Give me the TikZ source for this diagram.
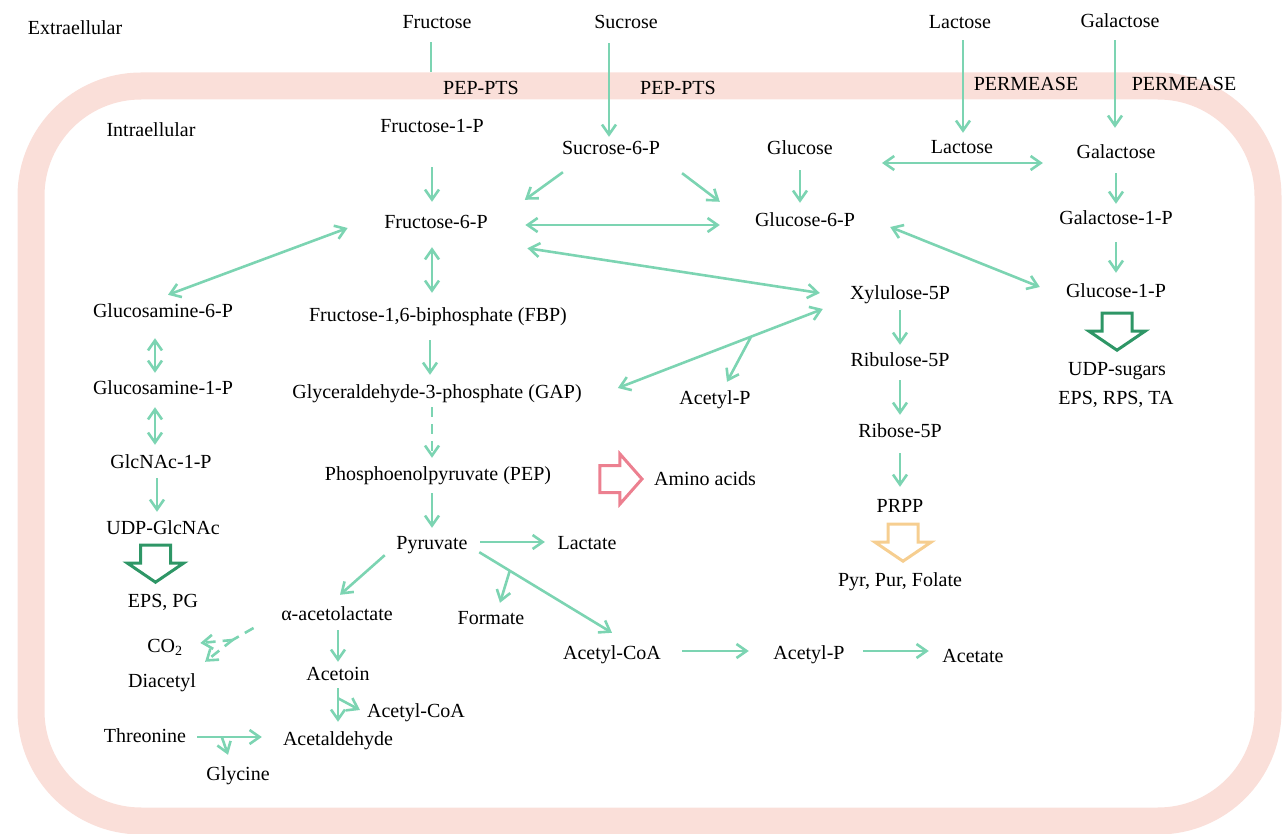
\documentclass[tikz,border=0pt]{standalone}
\usepackage{fontspec}
\setmainfont{Liberation Serif}
\usetikzlibrary{positioning,calc}
\usetikzlibrary{arrows.meta}
\definecolor{mint}{RGB}{124,212,178}
\definecolor{membranepink}{RGB}{250,223,217}
\definecolor{sugargreen}{RGB}{46,150,102}
\definecolor{aminopink}{RGB}{236,128,144}
\definecolor{prppyellow}{RGB}{246,206,144}
\tikzset{flow/.style={draw=mint, line width=2.6pt, -{Straight Barb[length=10pt, width=14pt]}}}
\tikzset{flowboth/.style={flow, {Straight Barb[length=10pt, width=14pt]}-{Straight Barb[length=10pt, width=14pt]}}}
\tikzset{flowline/.style={draw=mint, line width=2.6pt}}
\tikzset{pathdash/.style={dash pattern=on 10pt off 7pt}}
\tikzset{metab/.style={font=\fontsize{20}{24}\selectfont, inner sep=0pt, text height=14pt, text depth=0pt}}
\tikzset{membrane/.style={draw=membranepink, line width=27pt, rounded corners=110pt}}
\tikzset{blockarrow/.style={line width=3pt, line join=miter}}
\tikzset{bigdown/.pic={\draw[pic actions] (-15,0) -- (15,0) -- (15,-18) -- (28,-18) -- (0,-37) -- (-28,-18) -- (-15,-18) -- cycle;}}
\tikzset{bigright/.pic={\draw[pic actions] (0,13.5) -- (20,13.5) -- (20,25) -- (42,0) -- (20,-25) -- (20,-13.5) -- (0,-13.5) -- cycle;}}

\begin{document}
\begin{tikzpicture}[x=1pt, y=1pt]
		\useasboundingbox (0,0) rectangle (1286,-834);
		
		% cell membrane
		\draw[membrane] (31,-86) rectangle (1268,-821);
		
		% OUTSIDE / MEMBRANE
		\node[metab] (ext)    at (75,-28)   {Extraellular};
		\node[metab] (fru)    at (437,-22)  {Fructose};
		\node[metab] (suc)    at (626,-22)  {Sucrose};
		\node[metab] (lacout) at (960,-22)  {Lactose};
		\node[metab] (galout) at (1120,-21) {Galactose};
		\node[metab] (pts1)   at (481,-88)  {PEP-PTS};
		\node[metab] (pts2)   at (678,-88)  {PEP-PTS};
		\node[metab] (perm1)  at (1026,-84) {PERMEASE};
		\node[metab] (perm2)  at (1184,-84) {PERMEASE};
		
		% INSIDE
		\node[metab] (int)      at (151,-130)  {Intraellular};
		\node[metab] (f1p)      at (432,-126)  {Fructose-1-P};
		\node[metab] (s6p)      at (611,-148)  {Sucrose-6-P};
		\node[metab] (glc)      at (800,-148)  {Glucose};
		\node[metab] (lacin)    at (962,-147)  {Lactose};
		\node[metab] (galin)    at (1116,-152) {Galactose};
		\node[metab] (f6p)      at (436,-222)  {Fructose-6-P};
		\node[metab] (g6p)      at (805,-220)  {Glucose-6-P};
		\node[metab] (gal1p)    at (1116,-218) {Galactose-1-P};
		\node[metab] (gn6p)     at (163,-311)  {Glucosamine-6-P};
		\node[metab] (fbp)      at (438,-315)  {Fructose-1,6-biphosphate (FBP)};
		\node[metab] (xyl)      at (900,-293)  {Xylulose-5P};
		\node[metab] (g1p)      at (1116,-291) {Glucose-1-P};
		\node[metab] (gn1p)     at (163,-388)  {Glucosamine-1-P};
		\node[metab] (gap)      at (437,-392)  {Glyceraldehyde-3-phosphate (GAP)};
		\node[metab] (acp1)     at (715,-398)  {Acetyl-P};
		\node[metab] (rbl)      at (900,-360)  {Ribulose-5P};
		\node[metab] (udps)     at (1117,-369) {UDP-sugars};
		\node[metab] (epsrps)   at (1116,-398) {EPS, RPS, TA};
		\node[metab] (rib)      at (900,-430)  {Ribose-5P};
		\node[metab] (glcnac1p) at (161,-461)  {GlcNAc-1-P};
		\node[metab] (pep)      at (438,-473)  {Phosphoenolpyruvate (PEP)};
		\node[metab] (amino)    at (705,-478)  {Amino acids};
		\node[metab] (prpp)     at (900,-505)  {PRPP};
		\node[metab] (udpg)     at (163,-527)  {UDP-GlcNAc};
		\node[metab] (pyr)      at (432,-542)  {Pyruvate};
		\node[metab] (lac)      at (587,-542)  {Lactate};
		\node[metab] (pyrpur)   at (900,-579)  {Pyr, Pur, Folate};
		\node[metab] (epspg)    at (163,-600)  {EPS, PG};
		\node[metab] (alac)     at (337,-613)  {α-acetolactate};
		\node[metab] (form)     at (491,-617)  {Formate};
		\node[metab] (co2)      at (165,-645)  {CO\textsubscript{2}};
		\node[metab] (acoa)     at (612,-652)  {Acetyl-CoA};
		\node[metab] (acp2)     at (809,-652)  {Acetyl-P};
		\node[metab] (ace)      at (973,-655)  {Acetate};
		\node[metab] (diac)     at (162,-680)  {Diacetyl};
		\node[metab] (acetoin)  at (338,-673)  {Acetoin};
		\node[metab] (acoa2)    at (416,-710)  {Acetyl-CoA};
		\node[metab] (thr)      at (145,-735)  {Threonine};
		\node[metab] (ald)      at (338,-738)  {Acetaldehyde};
		\node[metab] (gly)      at (238,-773)  {Glycine};
		
		% transport
		\coordinate (fruin) at ([xshift=-6pt, yshift=-43pt]fru.south);
		\draw[flowline] ([xshift=-6pt, yshift=-13pt]fru.south) -- (fruin);
		\draw[flow] ([xshift=-17pt, yshift=-14pt]suc.south) -- ([xshift=-2pt, yshift=4pt]s6p.north);
		\draw[flow] ([xshift=3pt, yshift=-11pt]lacout.south) -- ([xshift=1pt, yshift=7pt]lacin.north);
		\draw[flow] ([xshift=-5pt, yshift=-12pt]galout.south) -- ([xshift=-1pt, yshift=17pt]galin.north);
		
		% lactose / galactose
		\draw[flowboth] ([xshift=49pt, yshift=-15pt]glc.east) -- ([xshift=-33.5pt, yshift=-11pt]galin.west);
		\draw[flow] ([yshift=-14pt]galin.south) -- ([yshift=7pt]gal1p.north);
		\draw[flow] ([yshift=-17pt]gal1p.south) -- ([yshift=11pt]g1p.north);
		\draw[flowboth] ([xshift=35pt, yshift=-7pt]g6p.east) -- ([xshift=-26pt, yshift=4pt]g1p.west);
		\pic[draw=sugargreen, blockarrow] at ([xshift=1pt, yshift=-15pt]g1p.south) {bigdown};
		
		% glycolysis
		\draw[flow] ([yshift=-34pt]f1p.south) -- ([xshift=-4pt, yshift=13pt]f6p.north);
		\draw[flow] ([xshift=1pt, yshift=-17pt]s6p.south west) -- ([xshift=37pt, yshift=15pt]f6p.north east);
		\draw[flow] ([xshift=22pt, yshift=-18pt]s6p.south east) -- ([xshift=-35pt, yshift=11pt]g6p.north west);
		\draw[flow] ([yshift=-15pt]glc.south) -- ([xshift=-5pt, yshift=10pt]g6p.north);
		\draw[flowboth] ([xshift=37.5pt, yshift=-3pt]f6p.east) -- ([xshift=-35pt, yshift=-5pt]g6p.west);
		\draw[flowboth] ([xshift=39.5pt, yshift=-19pt]f6p.south east) -- ([xshift=-30pt]xyl.west);
		\draw[flowboth] ([xshift=-36.5pt, yshift=-6pt]f6p.west) -- ([xshift=5pt, yshift=9pt]gn6p.north);
		\draw[flowboth] ([xshift=-4pt, yshift=-18pt]f6p.south) -- ([xshift=-6pt, yshift=15pt]fbp.north);
		\draw[flow] ([xshift=-8pt, yshift=-18pt]fbp.south) -- ([xshift=-7pt, yshift=10pt]gap.north);
		\draw[flowboth] ([xshift=36pt, yshift=4pt]gap.east) -- coordinate[pos=0.65] (xylfork) ([xshift=-27pt, yshift=-16pt]xyl.west);
		\draw[flow] (xylfork) -- ([xshift=12pt, yshift=9pt]acp1.north);
		\draw[flow, pathdash] ([xshift=-5pt, yshift=-8pt]gap.south) -- ([xshift=-6pt, yshift=8pt]pep.north);
		\draw[flow] ([xshift=-6pt, yshift=-13pt]pep.south) -- ([yshift=7pt]pyr.north);
		\pic[draw=aminopink, blockarrow] at ([xshift=-54pt, yshift=-1pt]amino.west) {bigright};
		
		% pentose phosphate
		\draw[flow] ([yshift=-10pt]xyl.south) -- ([yshift=8pt]rbl.north);
		\draw[flow] ([yshift=-13pt]rbl.south) -- ([yshift=8pt]rib.north);
		\draw[flow] ([yshift=-16pt]rib.south) -- ([yshift=11pt]prpp.north);
		\pic[draw=prppyellow, blockarrow] at ([xshift=3pt, yshift=-12pt]prpp.south) {bigdown};
		
		% amino sugars
		\draw[flowboth] ([xshift=-8pt, yshift=-20pt]gn6p.south) -- ([xshift=-8pt, yshift=8pt]gn1p.north);
		\draw[flowboth] ([xshift=-8pt, yshift=-12pt]gn1p.south) -- ([xshift=-6pt, yshift=9pt]glcnac1p.north);
		\draw[flow] ([xshift=-4pt, yshift=-10pt]glcnac1p.south) -- ([xshift=-6pt, yshift=8pt]udpg.north);
		\pic[draw=sugargreen, blockarrow] at ([xshift=-7.5pt, yshift=-11pt]udpg.south) {bigdown};
		
		% pyruvate
		\draw[flow] ([xshift=12.5pt]pyr.east) -- ([xshift=-12.5pt]lac.west);
		\draw[flow] ([xshift=11.5pt, yshift=-3pt]pyr.south east) -- coordinate[pos=0.23] (pyrfork) ([yshift=12pt]acoa.north);
		\draw[flow] (pyrfork) -- ([xshift=9pt, yshift=7pt]form.north);
		\draw[flow] ([xshift=-11.5pt, yshift=-6pt]pyr.south west) -- ([xshift=3pt, yshift=11pt]alac.north);
		\draw[flow] ([xshift=21pt, yshift=1pt]acoa.east) -- ([xshift=-24.5pt, yshift=1pt]acp2.west);
		\draw[flow] ([xshift=18.5pt, yshift=1pt]acp2.east) -- ([xshift=-13.5pt, yshift=4pt]ace.west);
		
		% acetolactate
		\coordinate (dfork) at ([xshift=-48.5pt, yshift=-27pt]alac.west);
		\draw[flowline, pathdash] ([xshift=-27.5pt, yshift=-15pt]alac.west) -- (dfork);
		\draw[flow, pathdash] (dfork) -- ([xshift=17.5pt, yshift=2pt]co2.east);
		\draw[flow, pathdash] (dfork) -- ([xshift=9pt, yshift=11pt]diac.north east);
		\draw[flow] ([xshift=1pt, yshift=-10pt]alac.south) -- ([yshift=4pt]acetoin.north);
		\draw[flow] ([yshift=-8pt]acetoin.south) -- coordinate[pos=0.3] (acetfork) ([yshift=9pt]ald.north);
		\draw[flow] (acetfork) -- ([xshift=-7pt]acoa2.west);
		\draw[flow] ([xshift=11pt, yshift=-2pt]thr.east) -- coordinate[pos=0.38] (thrfork) ([xshift=-21pt, yshift=1pt]ald.west);
		\draw[flow] (thrfork) -- ([xshift=-10pt, yshift=11pt]gly.north);
		
	\end{tikzpicture}
\end{document}
